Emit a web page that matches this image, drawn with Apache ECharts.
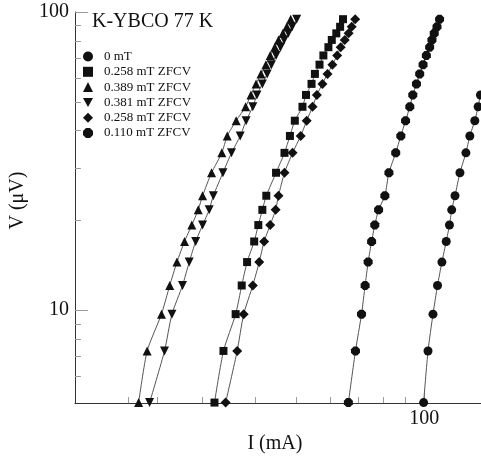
<!DOCTYPE html>
<html>
<head>
<meta charset="utf-8">
<script src="https://cdn.jsdelivr.net/npm/echarts@6/dist/echarts.min.js"></script>
<style>
html,body{margin:0;padding:0;background:#fff;}
#chart{width:481px;height:459px;}
</style>
</head>
<body>
<div id="chart"></div>
<script>
// Voltage levels (µV) shared by the sweeps
const V_uV = [4.9, 7.3, 9.7, 12.1, 14.5, 17.0, 19.3, 21.7, 24.2, 28.9, 33.7, 38.4, 43.2, 48.1, 52.7, 57.4, 62.0, 66.6, 71.5, 76.2, 80.6, 84.8, 89.2, 94.6];
// Currents (mA) per series
const I_0mT      = [99.6, 102.0, 104.8, 107.4, 110.0, 112.6, 114.6, 116.0, 118.1, 121.3, 125.3, 128.0, 131.5, 133.9, 135.6, 138.5, 141.0];
const I_0258a    = [32.0, 33.6, 35.9, 37.1, 38.2, 39.7, 40.6, 41.5, 42.4, 44.7, 46.8, 48.2, 49.5, 51.6, 52.6, 54.2, 55.2, 56.6, 57.8, 59.4, 60.5, 62.0, 63.3, 64.3];
const I_0389     = [21.2, 22.2, 24.0, 25.1, 26.1, 27.2, 28.3, 29.3, 30.0, 31.5, 33.3, 34.3, 36.0, 37.9, 39.0, 40.1, 41.2, 42.3, 43.3, 44.4, 45.3, 46.4, 47.4, 48.4];
const I_0381     = [22.5, 24.4, 25.4, 26.9, 27.9, 28.9, 30.0, 31.1, 31.8, 33.5, 35.1, 36.8, 38.0, 39.4, 40.3, 41.5, 42.6, 43.6, 44.7, 45.8, 46.7, 47.8, 48.8, 50.0];
const I_0258b    = [34.0, 36.2, 37.5, 39.4, 40.8, 41.9, 43.3, 44.6, 45.3, 46.8, 48.9, 51.1, 52.8, 54.5, 55.8, 57.5, 59.1, 60.7, 62.3, 63.5, 64.9, 66.3, 67.4, 68.7];
const I_0110     = [66.2, 68.8, 71.1, 72.5, 73.7, 75.1, 76.4, 78.0, 80.7, 82.5, 85.6, 88.0, 90.3, 92.4, 93.9, 95.8, 97.5, 99.3, 101.1, 102.9, 104.2, 105.5, 107.1, 108.6];

const seriesNames = ['0 mT', '0.258 mT ZFCV', '0.389 mT ZFCV', '0.381 mT ZFCV', '0.258 mT ZFCV ', '0.110 mT ZFCV'];
const xMinorTicks = [20, 23.5, 30, 40, 50, 60, 70, 80, 90];
const xMajorTicks = [100];
const yMinorTicks = [6, 7, 8, 9, 20, 30, 40, 50, 60, 70, 80, 90];
const yMajorTicks = [10, 100];

const SERIF = '"Liberation Serif", "DejaVu Serif", serif';
const INV_TRI = 'path://M0,0L10,0L5,9Z';
const OCTAGON = 'path://M3,0L7,0L10,3L10,7L7,10L3,10L0,7L0,3Z';
const symbols = ['circle', 'rect', 'triangle', INV_TRI, 'diamond', OCTAGON];
const sizes = [9, 8, 9, 9, 10, 9];
const currents = [I_0mT, I_0258a, I_0389, I_0381, I_0258b, I_0110];

function pairs(I) { return I.map((v, i) => [v, V_uV[i]]); }

const chart = echarts.init(document.getElementById('chart'), null, {renderer: 'canvas'});

const xBase = {type: 'log', logBase: 10, min: 15, max: 136, position: 'bottom', gridIndex: 0};
const yBase = {type: 'log', logBase: 10, min: 4.88, max: 100, position: 'left', gridIndex: 0};

chart.setOption({
  animation: false,
  backgroundColor: '#fff',
  title: {
    text: 'K-YBCO 77 K', left: 92, top: 12, padding: 0,
    textStyle: {fontFamily: SERIF, fontSize: 20, fontWeight: 'normal', color: '#111'}
  },
  legend: {
    orient: 'vertical', left: 83, top: 49, padding: 0,
    itemWidth: 10, itemHeight: 10, itemGap: 0.3, selectedMode: false,
    textStyle: {fontFamily: SERIF, fontSize: 13, color: '#111', lineHeight: 15, padding: [0, 0, 0, 6]},
    data: seriesNames.map((n, i) => ({name: n, icon: symbols[i], itemStyle: {color: '#111'}}))
  },
  grid: {left: 71, right: 0, top: 12, bottom: 52, containLabel: false},
  xAxis: [
    Object.assign({}, xBase, {
      axisLine: {show: true, lineStyle: {color: '#333', width: 1}},
      axisTick: {show: true, inside: true, length: 6, customValues: xMinorTicks, lineStyle: {color: '#999'}},
      axisLabel: {show: false},
      splitLine: {show: false}
    }),
    Object.assign({}, xBase, {
      axisLine: {show: false},
      axisTick: {show: true, inside: true, length: 13, customValues: xMajorTicks, lineStyle: {color: '#999'}},
      axisLabel: {show: true, customValues: xMajorTicks, margin: 6, fontFamily: SERIF, fontSize: 20, color: '#111'},
      splitLine: {show: false},
      name: 'I (mA)', nameLocation: 'middle', nameGap: 26,
      nameTextStyle: {fontFamily: SERIF, fontSize: 20, color: '#111', padding: [0, 6, 0, 0]}
    })
  ],
  yAxis: [
    Object.assign({}, yBase, {
      axisLine: {show: true, lineStyle: {color: '#333', width: 1}},
      axisTick: {show: true, inside: true, length: 6, customValues: yMinorTicks, lineStyle: {color: '#999'}},
      axisLabel: {show: false},
      splitLine: {show: false}
    }),
    Object.assign({}, yBase, {
      axisLine: {show: false},
      axisTick: {show: true, inside: true, length: 13, customValues: yMajorTicks, lineStyle: {color: '#999'}},
      axisLabel: {show: true, customValues: yMajorTicks, margin: 6, fontFamily: SERIF, fontSize: 20, color: '#111'},
      splitLine: {show: false},
      name: 'V (\u03bcV)', nameLocation: 'middle', nameGap: 33, nameRotate: 90,
      nameTextStyle: {fontFamily: SERIF, fontSize: 20, color: '#111', padding: [0, 0, 0, 14]}
    })
  ],
  series: seriesNames.map((n, i) => ({
    name: n,
    type: 'line',
    xAxisIndex: 0, yAxisIndex: 0,
    data: pairs(currents[i]),
    symbol: symbols[i],
    symbolSize: sizes[i],
    showAllSymbol: true,
    smooth: 0.2,
    clip: true,
    itemStyle: {color: '#111'},
    lineStyle: {color: '#555', width: 1}
  }))
});
</script>
</body>
</html>
